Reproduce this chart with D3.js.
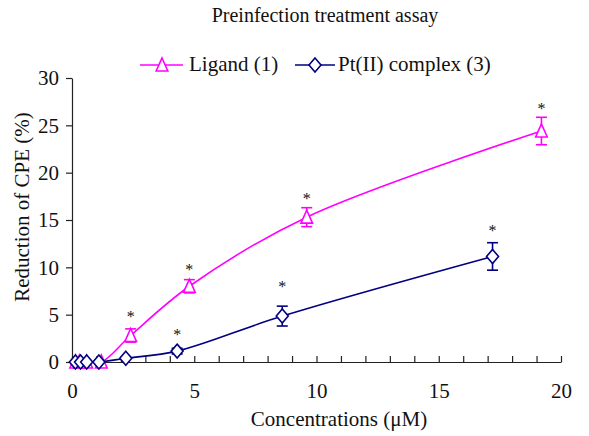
<!DOCTYPE html>
<html>
<head>
<meta charset="utf-8">
<script src="https://cdn.jsdelivr.net/npm/d3@7"></script>
<style>
  body { margin: 0; background: #fff; }
  svg text { font-family: "Liberation Serif", "DejaVu Serif", serif; fill: #111; }
</style>
</head>
<body>
<main></main>
<script>
// data
var ligandX = [0.15, 0.3, 0.6, 1.2, 2.4, 4.8, 9.6, 19.2];
var ligandY = [0, 0, 0, 0, 2.8, 8.0, 15.3, 24.4];
var ligandErr = [0, 0, 0, 0, 0.7, 0.7, 1.0, 1.45];
var ligandStar = [null, null, null, null, 5.2, 10.1, 17.6, 27.1];

var ptX = [0.14, 0.35, 0.6, 1.1, 2.2, 4.3, 8.6, 17.2];
var ptY = [0, 0, 0, 0, 0.4, 1.15, 4.85, 11.15];
var ptErr = [0, 0, 0, 0, 0, 0.3, 1.05, 1.45];
var ptStar = [null, null, null, null, null, 3.3, 8.3, 14.3];

var xTicks = d3.range(0, 21, 1);
var yTicks = [0, 5, 10, 15, 20, 25, 30];

var W = 589, H = 436;
var plotL = 72, plotR = 561, plotT = 78, plotB = 362;

var svg = d3.select("main")
    .append("svg")
    .attr("width", W)
    .attr("height", H);

var x = d3.scaleLinear().domain([0, 20]).range([plotL, plotR]);
var y = d3.scaleLinear().domain([0, 30]).range([plotB, plotT]);

svg.append("clipPath")
    .attr("id", "plot-clip")
    .append("rect")
    .attr("x", plotL).attr("y", plotT)
    .attr("width", plotR - plotL).attr("height", plotB - plotT);

// title
svg.append("text")
    .attr("x", 325).attr("y", 22)
    .attr("text-anchor", "middle")
    .style("font-size", "20px")
    .text("Preinfection treatment assay");

// axes
svg.append("g")
    .attr("transform", "translate(" + plotL + ",0)")
    .call(d3.axisLeft(y).tickValues(yTicks).tickSize(6).tickSizeOuter(0).tickPadding(7));

svg.append("g")
    .attr("transform", "translate(0," + plotB + ")")
    .call(d3.axisBottom(x).tickValues(xTicks).tickSizeInner(-6).tickSizeOuter(0).tickPadding(21)
        .tickFormat(function(d) { return d % 5 === 0 ? d : ""; }));

svg.selectAll(".tick text").style("font-size", "21px").attr("fill", "#111");
svg.selectAll(".domain, .tick line").attr("stroke", "#222").attr("stroke-width", 1.2);

// axis titles
svg.append("text")
    .attr("transform", "translate(29,207) rotate(-90)")
    .attr("text-anchor", "middle")
    .style("font-size", "21px")
    .text("Reduction of CPE (%)");

svg.append("text")
    .attr("x", 339).attr("y", 426)
    .attr("text-anchor", "middle")
    .style("font-size", "21px")
    .text("Concentrations (\u03bcM)");

var triPath = "M0,-7L5.8,6L-5.8,6Z";
var diaPath = "M0,-7L6,0L0,7L-6,0Z";

function drawSeries(xs, ys, errs, stars, color, shape) {
    var pts = xs.map(function(v, i) { return {x: v, y: ys[i], e: errs[i], s: stars[i]}; });
    var g = svg.append("g");

    g.append("path")
        .datum(pts)
        .attr("clip-path", "url(#plot-clip)")
        .attr("fill", "none")
        .attr("stroke", color)
        .attr("stroke-width", 1.6)
        .attr("d", d3.line()
            .x(function(d) { return x(d.x); })
            .y(function(d) { return y(d.y); })
            .curve(d3.curveCatmullRom.alpha(0.5)));

    var eb = g.selectAll(".err").data(pts.filter(function(d) { return d.e > 0; }))
        .enter().append("g")
        .attr("stroke", color).attr("stroke-width", 1.6);
    eb.append("line")
        .attr("x1", function(d) { return x(d.x); }).attr("x2", function(d) { return x(d.x); })
        .attr("y1", function(d) { return y(d.y + d.e); }).attr("y2", function(d) { return y(d.y - d.e); });
    [1, -1].forEach(function(sgn) {
        eb.append("line")
            .attr("x1", function(d) { return x(d.x) - 5.5; }).attr("x2", function(d) { return x(d.x) + 5.5; })
            .attr("y1", function(d) { return y(d.y + sgn * d.e); }).attr("y2", function(d) { return y(d.y + sgn * d.e); });
    });

    g.selectAll(".mk").data(pts)
        .enter().append("path")
        .attr("d", shape)
        .attr("transform", function(d) { return "translate(" + x(d.x) + "," + y(d.y) + ")"; })
        .attr("fill", "#fff")
        .attr("stroke", color)
        .attr("stroke-width", 1.6);

    g.selectAll(".star").data(pts.filter(function(d) { return d.s != null; }))
        .enter().append("text")
        .attr("x", function(d) { return x(d.x); })
        .attr("y", function(d) { return y(d.s) + 9; })
        .attr("text-anchor", "middle")
        .style("font-size", "16px")
        .text("*");
}

drawSeries(ligandX, ligandY, ligandErr, ligandStar, "#ff00ff", triPath);
drawSeries(ptX, ptY, ptErr, ptStar, "#000080", diaPath);

// legend
var legend = svg.append("g");
legend.append("line").attr("x1", 140).attr("x2", 183).attr("y1", 65).attr("y2", 65)
    .attr("stroke", "#ff00ff").attr("stroke-width", 1.6);
legend.append("path").attr("d", triPath).attr("transform", "translate(162,65)")
    .attr("fill", "#fff").attr("stroke", "#ff00ff").attr("stroke-width", 1.6);
legend.append("text").attr("x", 189).attr("y", 71).style("font-size", "21px").text("Ligand (1)");

legend.append("line").attr("x1", 295).attr("x2", 335).attr("y1", 65).attr("y2", 65)
    .attr("stroke", "#000080").attr("stroke-width", 1.6);
legend.append("path").attr("d", diaPath).attr("transform", "translate(315,65)")
    .attr("fill", "#fff").attr("stroke", "#000080").attr("stroke-width", 1.6);
legend.append("text").attr("x", 338).attr("y", 71).style("font-size", "21px").text("Pt(II) complex (3)");
</script>
</body>
</html>
